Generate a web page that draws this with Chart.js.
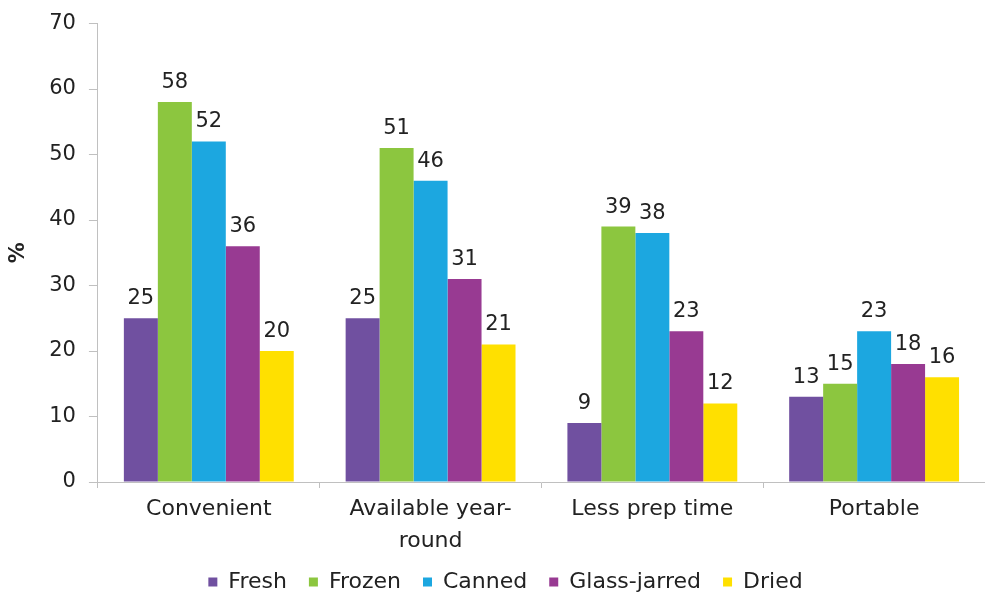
<!DOCTYPE html>
<html>
<head>
<meta charset="utf-8">
<script src="https://cdn.jsdelivr.net/npm/chart.js@4/dist/chart.umd.min.js"></script>
<style>
  html, body { margin: 0; padding: 0; background: #fff; }
  #wrap { width: 985px; height: 596px; position: relative; }
</style>
</head>
<body>
<div id="wrap"><canvas id="grafica"></canvas></div>
<script>
const categorias = ['Convenient', ['Available year-', 'round'], 'Less prep time', 'Portable'];
const fresh = [25, 25, 9, 13];
const frozen = [58, 51, 39, 15];
const canned = [52, 46, 38, 23];
const glassJarred = [36, 31, 23, 18];
const dried = [20, 21, 12, 16];

const fuente = "'DejaVu Sans', Verdana, sans-serif";
const texto = '#222222';
const gris = '#c0c0c0';

// Etiquetas de valor encima de cada barra
const etiquetasValor = {
    id: 'etiquetasValor',
    afterDatasetsDraw(chart) {
        const ctx = chart.ctx;
        ctx.save();
        ctx.font = `21px ${fuente}`;
        ctx.fillStyle = texto;
        ctx.textAlign = 'center';
        ctx.textBaseline = 'alphabetic';
        chart.data.datasets.forEach((ds, i) => {
            chart.getDatasetMeta(i).data.forEach((barra, j) => {
                ctx.fillText(String(ds.data[j]), barra.x, barra.y - 14);
            });
        });
        ctx.restore();
    }
};

const serie = (label, data, color) => ({
    label,
    data,
    backgroundColor: color,
    borderWidth: 0,
    categoryPercentage: 0.766,
    barPercentage: 1
});

new Chart(document.getElementById('grafica'), {
    type: 'bar',
    data: {
        labels: categorias,
        datasets: [
            serie('Fresh', fresh, '#7050a0'),
            serie('Frozen', frozen, '#8cc63f'),
            serie('Canned', canned, '#1ca7e0'),
            serie('Glass-jarred', glassJarred, '#983a92'),
            serie('Dried', dried, '#ffe000')
        ]
    },
    options: {
        responsive: true,
        maintainAspectRatio: false,
        animation: false,
        layout: { padding: { top: 7, right: 0, left: 26, bottom: -7 } },
        plugins: {
            tooltip: { enabled: false },
            legend: {
                position: 'bottom',
                labels: {
                    boxWidth: 9,
                    boxHeight: 9,
                    padding: 22,
                    color: texto,
                    font: { family: fuente, size: 22 }
                }
            }
        },
        scales: {
            x: {
                grid: {
                    drawOnChartArea: false,
                    color: gris,
                    tickLength: 6,
                    offset: true
                },
                border: { color: gris, width: 1 },
                ticks: {
                    color: texto,
                    font: { family: fuente, size: 22, lineHeight: 1.42 },
                    padding: 6,
                    maxRotation: 0
                },
                // la segunda línea de "Available year-round" puede invadir el hueco de la leyenda
                afterFit(scale) {
                    scale.height = 67;
                }
            },
            y: {
                min: 0,
                max: 70,
                grid: {
                    drawOnChartArea: false,
                    color: gris,
                    tickLength: 9
                },
                border: { color: gris, width: 1 },
                ticks: {
                    stepSize: 10,
                    color: texto,
                    font: { family: fuente, size: 21, lineHeight: 1 },
                    padding: 13
                },
                title: {
                    display: true,
                    text: '%',
                    color: texto,
                    font: { family: fuente, size: 21, weight: 'bold' },
                    padding: { top: -20, bottom: 5 }
                }
            }
        }
    },
    plugins: [etiquetasValor]
});
</script>
</body>
</html>
